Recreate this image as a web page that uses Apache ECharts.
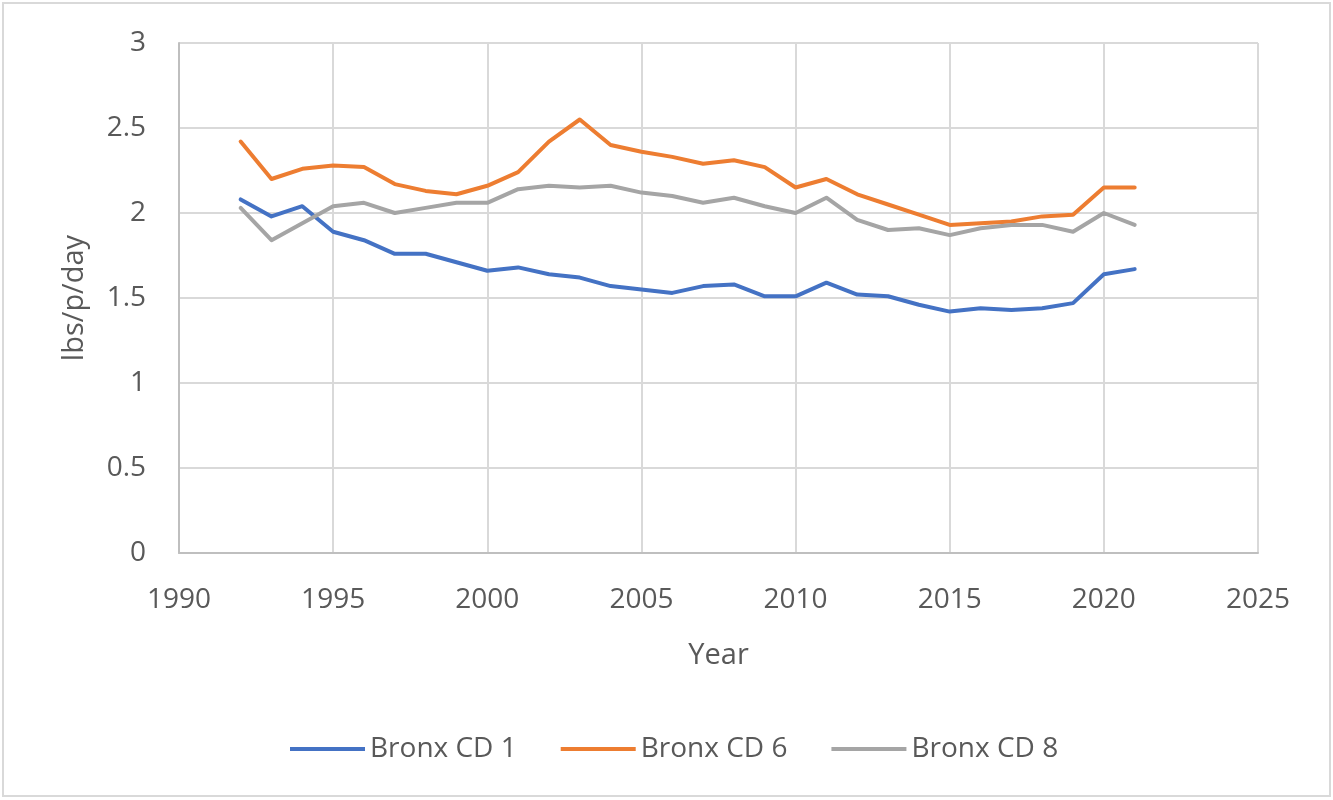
<!DOCTYPE html>
<html>
<head>
<meta charset="utf-8">
<script src="https://cdn.jsdelivr.net/npm/echarts@6/dist/echarts.min.js"></script>
<style>
html, body { margin: 0; padding: 0; background: #fff; }
#main { width: 1333px; height: 800px; }
</style>
</head>
<body>
<div id="main"></div>
<script>
var chart = echarts.init(document.getElementById("main"));

// 年份
var years = [1992, 1993, 1994, 1995, 1996, 1997, 1998, 1999, 2000, 2001,
             2002, 2003, 2004, 2005, 2006, 2007, 2008, 2009, 2010, 2011,
             2012, 2013, 2014, 2015, 2016, 2017, 2018, 2019, 2020, 2021];
// 各社区数据 (lbs/p/day)
var cd1 = [2.08, 1.98, 2.04, 1.89, 1.84, 1.76, 1.76, 1.71, 1.66, 1.68,
           1.64, 1.62, 1.57, 1.55, 1.53, 1.57, 1.58, 1.51, 1.51, 1.59,
           1.52, 1.51, 1.46, 1.42, 1.44, 1.43, 1.44, 1.47, 1.64, 1.67];
var cd6 = [2.42, 2.20, 2.26, 2.28, 2.27, 2.17, 2.13, 2.11, 2.16, 2.24,
           2.42, 2.55, 2.40, 2.36, 2.33, 2.29, 2.31, 2.27, 2.15, 2.20,
           2.11, 2.05, 1.99, 1.93, 1.94, 1.95, 1.98, 1.99, 2.15, 2.15];
var cd8 = [2.03, 1.84, 1.94, 2.04, 2.06, 2.00, 2.03, 2.06, 2.06, 2.14,
           2.16, 2.15, 2.16, 2.12, 2.10, 2.06, 2.09, 2.04, 2.00, 2.09,
           1.96, 1.90, 1.91, 1.87, 1.91, 1.93, 1.93, 1.89, 2.00, 1.93];
var names = ["Bronx CD 1", "Bronx CD 6", "Bronx CD 8"];
var colors = ["#4472C4", "#ED7D31", "#A5A5A5"];

function pairs(vals) {
    var out = [];
    for (var i = 0; i < years.length; i++) {
        out.push([years[i], vals[i]]);
    }
    return out;
}

var font = "Open Sans";
var textColor = "#595959";

var series = [cd1, cd6, cd8].map(function (vals, k) {
    return {
        name: names[k],
        type: "line",
        data: pairs(vals),
        showSymbol: false,
        symbol: "none",
        lineStyle: { width: 4, color: colors[k], cap: "round", join: "round" },
        itemStyle: { color: colors[k] },
        emphasis: { disabled: true }
    };
});

var option = {
    animation: false,
    color: colors,
    graphic: [{
        type: "rect",
        shape: { x: 3, y: 3, width: 1327, height: 793 },
        style: { fill: null, stroke: "#D9D9D9", lineWidth: 2 },
        silent: true
    }],
    grid: { left: 179, right: 75, top: 43, bottom: 247 },
    legend: {
        top: 730,
        left: 285,
        itemWidth: 75,
        itemHeight: 4,
        itemGap: 44,
        icon: "rect",
        textStyle: { fontFamily: font, fontSize: 28, color: textColor },
        data: names
    },
    xAxis: {
        type: "value",
        min: 1990,
        max: 2025,
        interval: 5,
        name: "Year",
        nameLocation: "middle",
        nameGap: 88,
        nameTextStyle: { fontFamily: font, fontSize: 29, color: textColor },
        axisLine: { show: true, lineStyle: { color: "#BFBFBF", width: 2 } },
        axisTick: { show: false },
        axisLabel: {
            fontFamily: font, fontSize: 28, color: textColor, margin: 33,
            formatter: function (v) { return String(v); }
        },
        splitLine: { show: true, lineStyle: { color: "#D9D9D9", width: 2 } }
    },
    yAxis: {
        type: "value",
        min: 0,
        max: 3,
        interval: 0.5,
        name: "lbs/p/day",
        nameLocation: "middle",
        nameGap: 90,
        nameTextStyle: { fontFamily: font, fontSize: 29, color: textColor },
        axisLine: { show: true, lineStyle: { color: "#BFBFBF", width: 2 } },
        axisTick: { show: false },
        axisLabel: { fontFamily: font, fontSize: 28, color: textColor, margin: 33 },
        splitLine: { show: true, lineStyle: { color: "#D9D9D9", width: 2 } }
    },
    series: series
};

chart.setOption(option);
</script>
</body>
</html>
